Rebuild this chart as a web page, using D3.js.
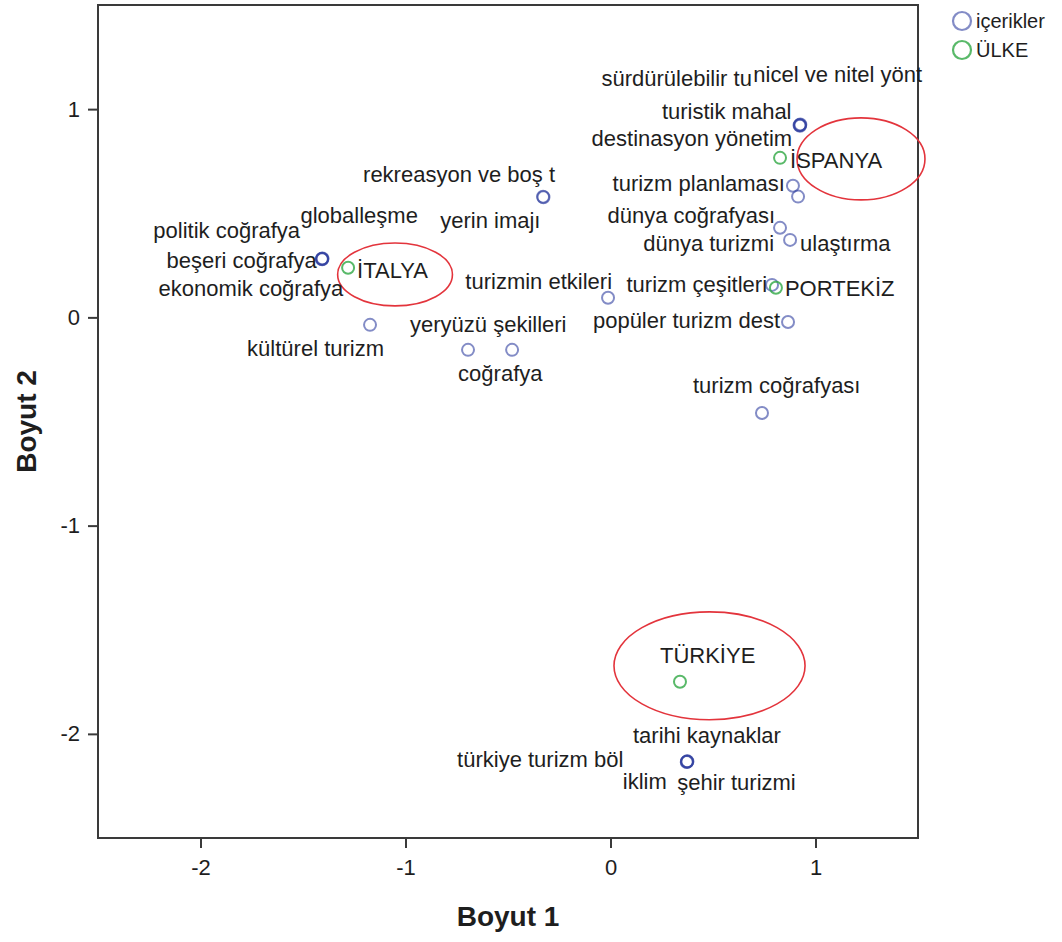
<!DOCTYPE html>
<html><head><meta charset="utf-8">
<script src="https://cdn.jsdelivr.net/npm/d3@7"></script>
<style>
body{margin:0;background:#fff}
text{font-family:"Liberation Sans",Arial,sans-serif;fill:#1e1e1e}
</style></head>
<body><svg id="c" width="1062" height="942"></svg>
<script>
// ---- data ----
const xTicks = [-2, -1, 0, 1];
const yTicks = [1, 0, -1, -2];
const seriesNames = ["içerikler", "ÜLKE"];

const contentNames = ["sürdürülebilir tu","nicel ve nitel yönt","turistik mahal","destinasyon yönetim",
  "turizm planlaması","dünya coğrafyası","dünya turizmi","ulaştırma","turizm çeşitleri",
  "popüler turizm dest","turizmin etkileri","rekreasyon ve boş t","yerin imajı",
  "politik coğrafya","globalleşme","beşeri coğrafya","ekonomik coğrafya","kültürel turizm",
  "yeryüzü şekilleri","coğrafya","turizm coğrafyası","tarihi kaynaklar","türkiye turizm böl",
  "iklim","şehir turizmi"];
const contentX = [0.924,0.926,0.922,0.925, 0.890,0.915,0.827,0.876,0.788, 0.866,-0.012,-0.329,-0.327,
  -1.407,-1.405,-1.408,-1.406,-1.173, -0.695,-0.480,0.739,0.373,0.375, 0.372,0.374];
const contentY = [0.924,0.926,0.922,0.920, 0.632,0.580,0.430,0.372,0.156, -0.022,0.094,0.579,0.577,
  0.281,0.283,0.280,0.279,-0.036, -0.156,-0.156,-0.459,-2.134,-2.132, -2.135,-2.133];

const countryNames = ["İSPANYA","İTALYA","PORTEKİZ","TÜRKİYE"];
const countryX = [0.827,-1.280,0.807,0.339];
const countryY = [0.766,0.238,0.142,-1.750];

// hand-drawn highlight ellipses (data units): centre x, centre y, radius x, radius y
const ringCX = [1.222,-1.051,0.483];
const ringCY = [0.761,0.206,-1.673];
const ringRX = [0.312,0.280,0.466];
const ringRY = [0.197,0.151,0.259];

// label layout (pixel offsets from the point, anchor)
const contentLabel = [[-48,-39,"end"],[-47,-43,"start"],[-8,-6,"end"],[-8,20,"end"],
  [-8,5,"end"],[-23,26,"end"],[-6,23,"end"],[10,11,"start"],[-5,7,"end"],
  [-8,6,"end"],[4,-9,"end"],[12,-15,"end"],[-3,31,"end"],
  [-22,-21,"end"],[-22,-35,"start"],[-5,9,"end"],[21,37,"end"],[14,31,"end"],
  [-58,-18,"start"],[-54,31,"start"],[-69,-20,"start"],[-54,-19,"start"],[-64,6,"end"],
  [-64,27,"start"],[-10,28,"start"]];
const countryLabel = [[10,10,"start"],[9,10,"start"],[9,8,"start"],[-20,-19,"start"]];

// ---- drawing ----
const svg = d3.select("#c");
const L = 98, R = 918, T = 5, B = 838;
const x = d3.scaleLinear().domain([-2.5, 1.5]).range([L, R]);
const y = d3.scaleLinear().domain([-2.5, 1.5]).range([B, T]);
const blue = "#3040a0", green = "#2fa843", red = "#e3343c";
const fmt = d => String(d);

// axes
const gx = svg.append("g").attr("transform", `translate(0,${B})`)
  .call(d3.axisBottom(x).tickValues(xTicks).tickSize(10).tickPadding(11).tickFormat(fmt));
const gy = svg.append("g").attr("transform", `translate(${L},0)`)
  .call(d3.axisLeft(y).tickValues(yTicks).tickSize(10).tickPadding(8).tickFormat(fmt));
[gx, gy].forEach(g => {
  g.select(".domain").remove();
  g.selectAll("line").attr("stroke", "#3a3a3a").attr("stroke-width", 2);
  g.selectAll("text").style("font-size", "22px").style("font-family", "'Liberation Sans',Arial,sans-serif").attr("fill", "#1e1e1e");
});

svg.append("rect").attr("x", L).attr("y", T).attr("width", R - L).attr("height", B - T)
  .attr("fill", "none").attr("stroke", "#3a3a3a").attr("stroke-width", 2);

// axis titles
svg.append("text").attr("x", (L + R) / 2).attr("y", 926).attr("text-anchor", "middle")
  .style("font-size", "28px").style("font-weight", "bold").text("Boyut 1");
svg.append("text").attr("transform", `translate(36,${(T + B) / 2}) rotate(-90)`).attr("text-anchor", "middle")
  .style("font-size", "28px").style("font-weight", "bold").text("Boyut 2");

// ellipses
svg.append("g").selectAll("ellipse").data(ringCX).join("ellipse")
  .attr("cx", (d, i) => x(ringCX[i])).attr("cy", (d, i) => y(ringCY[i]))
  .attr("rx", (d, i) => x(ringRX[i]) - x(0)).attr("ry", (d, i) => y(0) - y(ringRY[i]))
  .attr("fill", "none").attr("stroke", red).attr("stroke-width", 1.6);

const contents = contentNames.map((n, i) => ({n, x: contentX[i], y: contentY[i], l: contentLabel[i]}));
const countries = countryNames.map((n, i) => ({n, x: countryX[i], y: countryY[i], l: countryLabel[i]}));

svg.append("g").selectAll("circle").data(contents).join("circle")
  .attr("cx", d => x(d.x)).attr("cy", d => y(d.y)).attr("r", 6)
  .attr("fill", "none").attr("stroke", blue).attr("stroke-opacity", 0.6).attr("stroke-width", 2);
svg.append("g").selectAll("circle").data(countries).join("circle")
  .attr("cx", d => x(d.x)).attr("cy", d => y(d.y)).attr("r", 6)
  .attr("fill", "none").attr("stroke", green).attr("stroke-opacity", 0.8).attr("stroke-width", 2);

svg.append("g").selectAll("text").data(contents.concat(countries)).join("text")
  .attr("x", d => x(d.x) + d.l[0]).attr("y", d => y(d.y) + d.l[1])
  .attr("text-anchor", d => d.l[2]).style("font-size", "22px").text(d => d.n);

// legend
const leg = svg.append("g");
seriesNames.forEach((s, i) => {
  leg.append("circle").attr("cx", 962).attr("cy", 21 + i * 29).attr("r", 9)
    .attr("fill", "none").attr("stroke", i ? green : blue).attr("stroke-opacity", i ? 0.8 : 0.6).attr("stroke-width", 2.2);
  leg.append("text").attr("x", 976).attr("y", 21 + i * 29).attr("dy", "0.36em")
    .style("font-size", "20px").text(s);
});
</script></body></html>
